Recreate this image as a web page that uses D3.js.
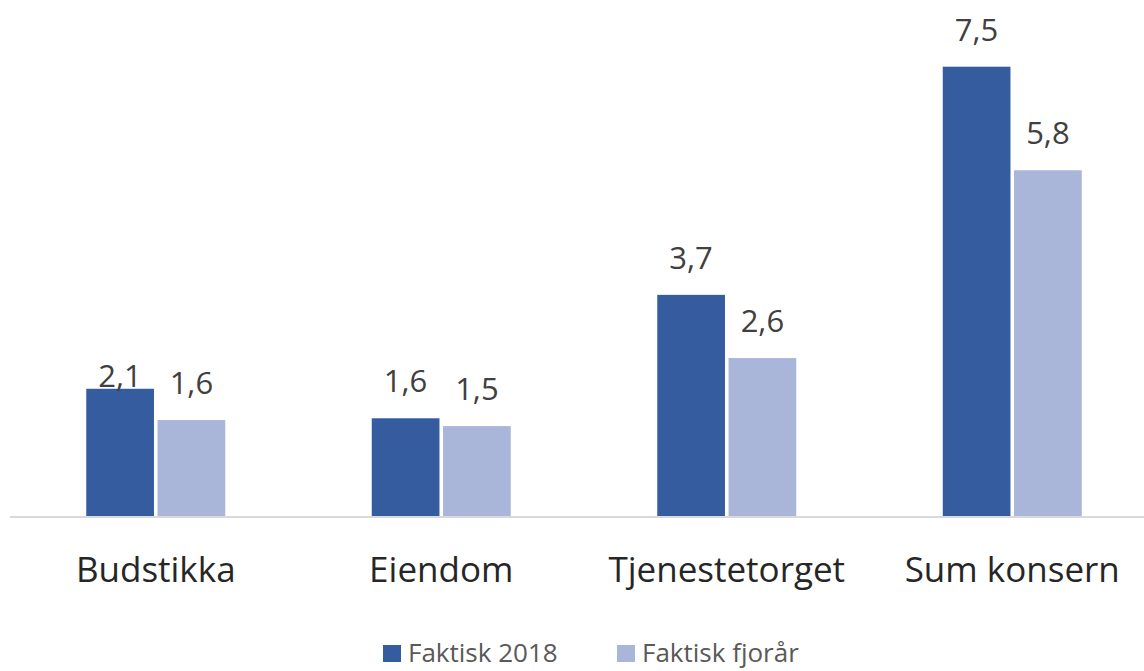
<!DOCTYPE html>
<html>
<head>
<meta charset="utf-8">
<script src="https://cdn.jsdelivr.net/npm/d3@7"></script>
<style>
  body { margin: 0; background: #fff; }
  svg { display: block; font-family: "Open Sans", "Noto Sans", sans-serif; }
</style>
</head>
<body>
<svg id="chart"></svg>
<script>
const categories = ['Budstikka', 'Eiendom', 'Tjenestetorget', 'Sum konsern'];
const seriesNames = ['Faktisk 2018', 'Faktisk fjorår'];
const faktisk2018 = [2.13, 1.64, 3.69, 7.48];
const faktiskFjoraar = [1.61, 1.51, 2.64, 5.76];
const colors = ['#355c9f', '#a9b6da'];

const width = 1144, height = 671;
const baseline = 517;

const svg = d3.select('#chart')
    .attr('width', width)
    .attr('height', height);

const data = categories.map((c, i) => ({
    category: c,
    values: [faktisk2018[i], faktiskFjoraar[i]]
}));

const xscale = d3.scaleBand()
    .domain(categories)
    .range([13, 1155])
    .paddingInner(0)
    .paddingOuter(0);

const inner = d3.scaleBand()
    .domain(seriesNames)
    .range([0, 139])
    .paddingInner(0.05);

const yscale = d3.scaleLinear()
    .domain([0, 8])
    .range([baseline, baseline - 8 * 60.2]);

const fmt = v => d3.format('.1f')(v).replace('.', ',');

const groups = svg.selectAll('.group')
    .data(data)
    .join('g')
    .attr('class', 'group')
    .attr('transform', d => `translate(${xscale(d.category) + xscale.bandwidth() / 2 - 69.5}, 0)`);

groups.selectAll('rect')
    .data(d => d.values.map((v, j) => ({ v, j, cat: d.category })))
    .join('rect')
    .attr('x', d => inner(seriesNames[d.j]))
    .attr('y', d => yscale(d.v))
    .attr('width', inner.bandwidth())
    .attr('height', d => baseline - yscale(d.v))
    .attr('fill', d => colors[d.j]);

// Excel nudged the first label down onto the bar
groups.selectAll('text.value')
    .data(d => d.values.map((v, j) => ({ v, j, cat: d.category })))
    .join('text')
    .attr('class', 'value')
    .attr('x', d => inner(seriesNames[d.j]) + inner.bandwidth() / 2)
    .attr('y', d => yscale(d.v) - (d.cat === 'Budstikka' && d.j === 0 ? 2 : 26))
    .attr('text-anchor', 'middle')
    .attr('font-size', 31)
    .attr('fill', '#404040')
    .text(d => fmt(d.v));

// baseline
const xaxis = d3.axisBottom(xscale).tickSize(0).tickPadding(40);
const xaxis_group = svg.append('g')
    .attr('transform', `translate(0, ${baseline})`)
    .call(xaxis);
xaxis_group.select('.domain')
    .attr('d', `M10,0H1144`)
    .attr('stroke', '#d9d9d9')
    .attr('stroke-width', 2);
xaxis_group.selectAll('.tick text')
    .attr('font-size', 35)
    .attr('font-family', '"Open Sans", "Noto Sans", sans-serif')
    .attr('fill', '#262626')
    .attr('dy', 0)
    .attr('y', 65);

// legend
const legendX = [383, 617];
const legend = svg.selectAll('.legend')
    .data(seriesNames)
    .join('g')
    .attr('class', 'legend')
    .attr('transform', (d, i) => `translate(${legendX[i]}, 662)`);
legend.append('rect')
    .attr('x', 0)
    .attr('y', -17)
    .attr('width', 18)
    .attr('height', 17)
    .attr('fill', (d, i) => colors[i]);
legend.append('text')
    .attr('x', 25)
    .attr('y', 0)
    .attr('font-size', 26)
    .attr('fill', '#595959')
    .text(d => d);
</script>
</body>
</html>
